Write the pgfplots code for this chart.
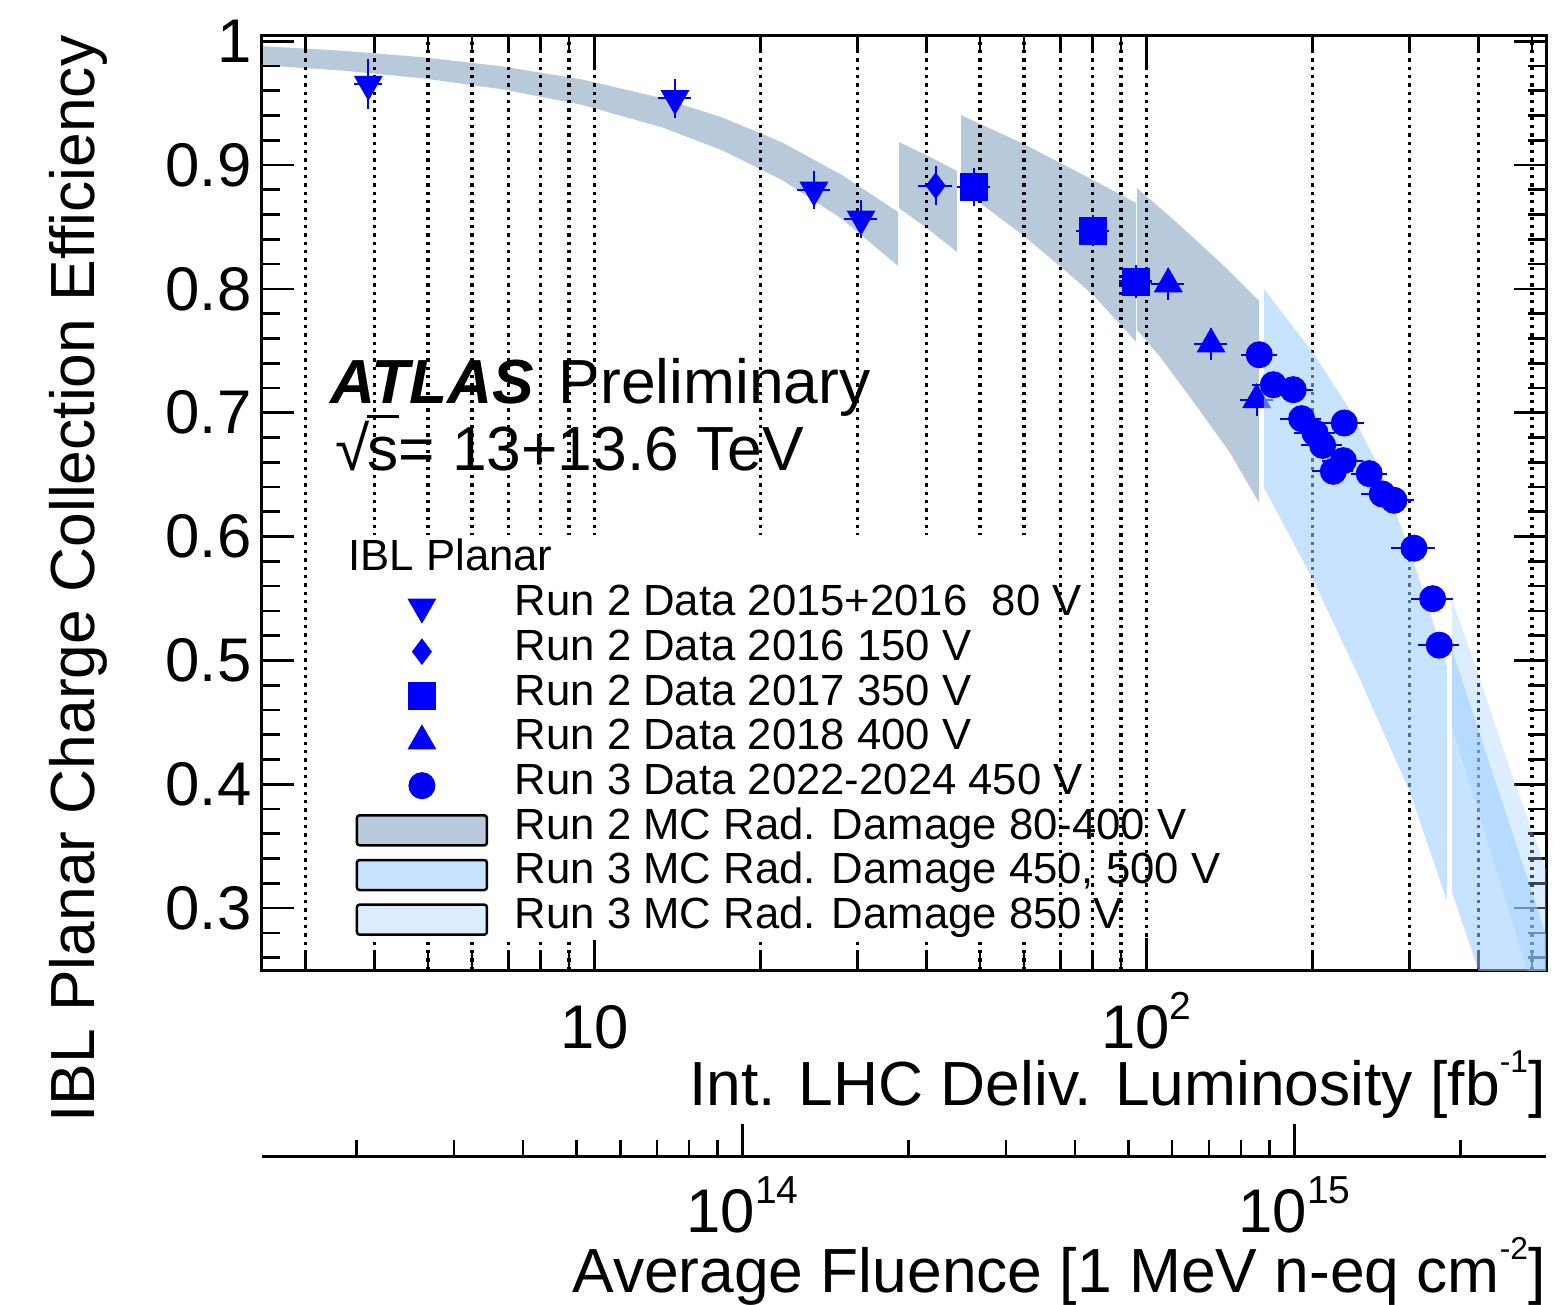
\documentclass[border=0pt]{standalone}
\usepackage{fontspec}
\setmainfont{Liberation Sans}
\usepackage{pgfplots}
\pgfplotsset{compat=1.18}

\definecolor{mcgrey}{RGB}{184,201,218}
\definecolor{mcblue}{RGB}{153,204,255}
\definecolor{datablue}{RGB}{0,0,255}

\newcommand\bigtxt{\fontsize{18.7pt}{22pt}\selectfont}
\newcommand\ticktxt{\fontsize{18.5pt}{22pt}\selectfont}
\newcommand\legtxt{\fontsize{13.1pt}{15pt}\selectfont}
\newcommand\tsup[1]{\raisebox{0.46em}{\fontsize{11.7pt}{12pt}\selectfont #1}}
\newcommand\lsup[1]{\raisebox{0.52em}{\fontsize{9.5pt}{10pt}\selectfont #1}}

% legend images
\newcommand\legmark[1]{\addlegendimage{legend image code/.code={%
  \draw[datablue,fill=datablue,line width=0.3pt] plot[only marks,#1] coordinates {(19.5pt,0pt)};}}}
\newcommand\legbox[1]{\addlegendimage{legend image code/.code={%
  \draw[#1,draw=black,line width=0.75pt,rounded corners=0.8pt] (0pt,-4.5pt) rectangle (39pt,4.5pt);}}}

\pgfplotsset{
  pts/.style={forget plot, only marks, color=datablue,
    error bars/x dir=both, error bars/x explicit,
    error bars/y dir=both, error bars/y explicit,
    error bars/error bar style={line width=0.65pt, color=datablue},
    error bars/error mark=none},
}

\begin{document}
\begin{tikzpicture}

\begin{axis}[
  at={(0,0)}, anchor=south west,
  scale only axis, width=385.2pt, height=280.5pt,
  set layers, clip mode=individual,
  xmode=log, xmin=2.5, xmax=529.9, ymin=0.25, ymax=1.005,
  tick align=inside, tick pos=both,
  major tick length=9.5pt, minor tick length=5.5pt,
  axis line style={line width=0.9pt},
  tick style={black, line width=0.8pt},
  xtick={10,100}, xticklabels={10,10\tsup{2}},
  minor xtick={3,4,5,6,7,8,9,20,30,40,50,60,70,80,90,200,300,400,500},
  ytick={0.3,0.4,0.5,0.6,0.7,0.8,0.9,1},
  yticklabels={0.3,0.4,0.5,0.6,0.7,0.8,0.9,1},
  minor ytick={0.26,0.28,0.32,0.34,0.36,0.38,0.42,0.44,0.46,0.48,0.52,0.54,0.56,0.58,0.62,0.64,0.66,0.68,0.72,0.74,0.76,0.78,0.82,0.84,0.86,0.88,0.92,0.94,0.96,0.98},
  xmajorgrids, xminorgrids,
  grid style={black, line width=1pt, dash pattern=on 1pt off 1.5pt},
  major grid style={black, line width=1pt, dash pattern=on 1pt off 1.5pt},
  minor grid style={black, line width=1pt, dash pattern=on 1pt off 1.5pt},
  xticklabel style={font=\ticktxt, anchor=base, yshift=-23.4pt},
  yticklabel style={font=\ticktxt, anchor=east, inner sep=0pt, xshift=-3pt},
  xlabel={Int. LHC Deliv. Luminosity [fb\lsup{-1}]},
  xlabel style={font=\bigtxt, at={(axis description cs:1,0)}, anchor=base east, yshift=-40.5pt, inner sep=0pt},
  ylabel={IBL Planar Charge Collection Efficiency},
  ylabel style={font=\bigtxt, at={(axis description cs:-0.13006,1)}, anchor=base east, inner sep=0pt},
  legend cell align=left,
  legend style={at={(axis description cs:0.07243,0.41283)}, anchor=north west,
    draw=none, fill=none, inner sep=0pt, row sep=0pt, column sep=8pt,
    nodes={inner sep=0pt, text height=9.3pt, text depth=4.1pt, font=\legtxt}},
]

% Run 2 MC band (under the grid)
\addplot[forget plot, on layer=axis background, fill=mcgrey, draw=none] coordinates {
  (2.500,0.9960) (3.491,0.9923) (4.874,0.9871) (6.805,0.9797) (9.500,0.9691) (13.26,0.9540) (17.03,0.9385) (21.88,0.9183) (28.10,0.8919) (35.50,0.8621)
  (35.50,0.8186) (28.10,0.8565) (21.88,0.8880) (17.03,0.9120) (13.26,0.9305) (9.500,0.9486) (6.805,0.9612) (4.874,0.9701) (3.491,0.9763) (2.500,0.9806)} -- cycle;
\addplot[forget plot, on layer=axis background, fill=mcgrey, draw=none] coordinates {
  (35.65,0.9186) (40.22,0.9073) (45.40,0.8952) (45.40,0.8298) (40.22,0.8484) (35.65,0.8653)} -- cycle;
\addplot[forget plot, on layer=axis background, fill=mcgrey, draw=none] coordinates {
  (46.17,0.9403) (60.03,0.9169) (80.08,0.8879) (95.79,0.8694)
  (95.79,0.7573) (80.08,0.7952) (70.05,0.8177) (60.03,0.8427) (49.95,0.8694) (46.17,0.8774)} -- cycle;
\addplot[forget plot, on layer=axis background, fill=mcgrey, draw=none] coordinates {
  (96.19,0.8815) (109.5,0.8597) (124.1,0.8379) (140.6,0.8153) (160.0,0.7903)
  (160.0,0.6274) (141.8,0.6677) (123.6,0.7048) (105.9,0.7452) (96.19,0.7669)} -- cycle;

% legend background
\fill[white] (axis cs:3.321,0.2742) rectangle (axis cs:64.2,0.6016);

% Run 2 data
\addplot[pts, mark=triangle*, mark size=4.7pt, mark options={solid, rotate=180, fill=datablue, line width=0.3pt}] coordinates {
  (3.896,0.9653) +- (0.22,0.020) (14.00,0.9538) +- (0.97,0.0157)
  (25.00,0.8798) +- (1.72,0.0153) (30.42,0.8565) +- (2.10,0.0153)};
\addplot[pts, mark=diamond*, mark size=3.75pt, mark options={solid, fill=datablue, line width=0.3pt}] coordinates {
  (41.54,0.8833) +- (2.87,0.0157)};
\addplot[pts, mark=square*, mark size=4.05pt, mark options={solid, fill=datablue, line width=0.3pt}] coordinates {
  (48.74,0.8825) +- (3.36,0.0153) (80.08,0.8468) +- (5.50,0.0125) (95.68,0.8059) +- (6.60,0.013)};
\addplot[pts, mark=triangle*, mark size=4.7pt, mark options={solid, fill=datablue, line width=0.3pt}] coordinates {
  (109.6,0.8040) +- (7.6,0.013) (131.0,0.7554) +- (9.0,0.013) (158.5,0.7105) +- (10.9,0.013)};

% Run 3 MC bands
\addplot[forget plot, fill=mcblue, fill opacity=0.55, draw=none] coordinates {
  (163.4,0.8000) (200.4,0.7484) (233.9,0.7024) (265.1,0.6540) (304.2,0.5815) (350.5,0.4952)
  (350.5,0.3057) (300.4,0.3935) (243.9,0.4847) (200.4,0.5653) (163.4,0.6395)} -- cycle;
\addplot[forget plot, fill=mcblue, fill opacity=0.55, draw=none] coordinates {
  (357.9,0.5089) (535,0.2728) (535,0.20) (436,0.20) (357.9,0.3129)} -- cycle;
\addplot[forget plot, fill=mcblue, fill opacity=0.35, draw=none] coordinates {
  (357.9,0.5492) (402.3,0.4847) (456.0,0.4121) (529.9,0.3315) (535,0.3260) (535,0.20) (530.3,0.20) (357.9,0.4468)} -- cycle;

% Run 3 data
\addplot[pts, mark=*, mark size=3.9pt, mark options={solid, fill=datablue, line width=0.3pt}] coordinates {
  (160.2,0.7468) +- (12.0,0.004) (169.9,0.7226) +- (14.4,0.004) (184.6,0.7186) +- (15.7,0.004)
  (191.2,0.6952) +- (16.3,0.004) (202.2,0.6836) +- (17.2,0.004) (208.7,0.6736) +- (17.7,0.004)
  (228.4,0.6917) +- (19.4,0.004) (227.5,0.6613) +- (19.3,0.004) (218.2,0.6527) +- (18.5,0.004)
  (253.5,0.6508) +- (19.0,0.004) (267.6,0.6344) +- (22.7,0.004) (281.0,0.6293) +- (23.9,0.004)
  (305.5,0.5906) +- (28.0,0.004) (330.2,0.5498) +- (29.0,0.004) (339.5,0.5123) +- (29.0,0.004)};

% legend
\legmark{mark=triangle*, mark size=4.7pt, mark options={rotate=180}}
\addlegendentry{Run 2 Data 2015+2016~~80 V}
\legmark{mark=diamond*, mark size=3.75pt}
\addlegendentry{Run 2 Data 2016 150 V}
\legmark{mark=square*, mark size=4.05pt}
\addlegendentry{Run 2 Data 2017 350 V}
\legmark{mark=triangle*, mark size=4.7pt}
\addlegendentry{Run 2 Data 2018 400 V}
\legmark{mark=*, mark size=3.9pt}
\addlegendentry{Run 3 Data 2022-2024 450 V}
\legbox{fill=mcgrey}
\addlegendentry{Run 2 MC Rad. Damage 80-400 V}
\legbox{fill=mcblue, fill opacity=0.55}
\addlegendentry{Run 3 MC Rad. Damage 450, 500 V}
\legbox{fill=mcblue, fill opacity=0.35}
\addlegendentry{Run 3 MC Rad. Damage 850 V}

% texts
\node[anchor=base west, inner sep=0pt, font=\legtxt] at (axis description cs:0.06698,0.42781) {IBL Planar};
\node[anchor=base west, inner sep=0pt, font=\bigtxt] at (axis description cs:0.05296,0.60642) {\textbf{\textit{ATLAS}}};
\node[anchor=base west, inner sep=0pt, font=\bigtxt] at (axis description cs:0.23053,0.60642) {Preliminary};
\node[anchor=base west, inner sep=0pt, font=\bigtxt] at (axis description cs:0.05685,0.53476)
  {√\kern-0.04em\rlap{\rule[0.84em]{0.5em}{0.045em}}s= 13+13.6 TeV};
\end{axis}

% fluence scale
\begin{axis}[
  at={(0,-55.8pt)}, anchor=south west,
  scale only axis, width=385.2pt, height=20pt,
  xmode=log, xmin=1.347e13, xmax=2.856e15, ymin=0, ymax=1,
  axis x line*=bottom, axis y line=none,
  axis line style={-, line width=0.9pt},
  tick align=inside,
  major tick length=9.6pt, minor tick length=4.8pt,
  tick style={black, line width=0.8pt},
  xtick={1e14,1e15}, xticklabels={10\tsup{14},10\tsup{15}},
  minor xtick={2e13,3e13,4e13,5e13,6e13,7e13,8e13,9e13,2e14,3e14,4e14,5e14,6e14,7e14,8e14,9e14,2e15},
  xticklabel style={font=\ticktxt, anchor=base, yshift=-22.8pt},
  xlabel={Average Fluence [1 MeV n-eq cm\lsup{-2}]},
  xlabel style={font=\bigtxt, at={(axis description cs:1,0)}, anchor=base east, yshift=-40.8pt, inner sep=0pt},
]
\addplot[draw=none, forget plot] coordinates {(1e14,0) (1e15,1)};
\end{axis}

\pgfresetboundingbox
\path[use as bounding box] (-78.6pt,-100.2pt) rectangle (387.6pt,291pt);
\end{tikzpicture}
\end{document}
